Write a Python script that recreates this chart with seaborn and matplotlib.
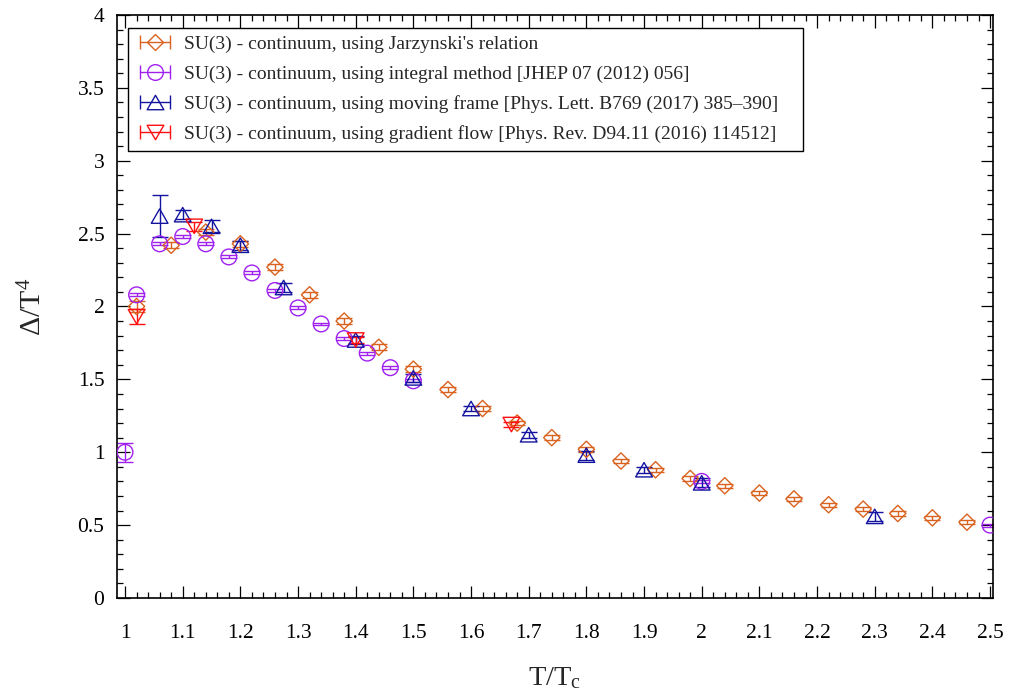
import matplotlib
matplotlib.use("Agg")
import matplotlib.pyplot as plt
from matplotlib.lines import Line2D
from matplotlib.legend_handler import HandlerLine2D
from matplotlib.path import Path
from matplotlib.ticker import MultipleLocator, FuncFormatter
import seaborn as sns

# --- SU(3) continuum data: Delta/T^4 versus T/Tc ---------------------------
# Jarzynski's relation
jar_t = [1.02, 1.08, 1.14, 1.20, 1.26, 1.32, 1.38, 1.44, 1.50, 1.56, 1.62, 1.68,
         1.74, 1.80, 1.86, 1.92, 1.98, 2.04, 2.10, 2.16, 2.22, 2.28, 2.34, 2.40, 2.46]
jar_d = [2.00, 2.42, 2.51, 2.43, 2.27, 2.08, 1.90, 1.72, 1.57, 1.43, 1.30, 1.20,
         1.10, 1.02, 0.94, 0.88, 0.82, 0.77, 0.72, 0.68, 0.64, 0.61, 0.58, 0.55, 0.52]
jar_e = [0.04, 0.02, 0.02, 0.02, 0.02, 0.02, 0.02, 0.02, 0.02, 0.015, 0.015, 0.015,
         0.015, 0.015, 0.015, 0.015, 0.015, 0.015, 0.015, 0.015, 0.015, 0.015, 0.015, 0.015, 0.015]

# integral method [JHEP 07 (2012) 056]
int_t = [1.00, 1.02, 1.06, 1.10, 1.14, 1.18, 1.22, 1.26, 1.30, 1.34, 1.38, 1.42,
         1.46, 1.50, 2.00, 2.50]
int_d = [1.00, 2.08, 2.43, 2.48, 2.43, 2.34, 2.23, 2.11, 1.99, 1.88, 1.78, 1.68,
         1.58, 1.49, 0.80, 0.50]
int_e = [0.065, 0.01, 0.01, 0.01, 0.01, 0.01, 0.01, 0.01, 0.01, 0.01, 0.01, 0.01,
         0.01, 0.01, 0.01, 0.01]

# moving frame [Phys. Lett. B769 (2017) 385-390]
mov_t = [1.06, 1.10, 1.15, 1.20, 1.275, 1.40, 1.50, 1.60, 1.70, 1.80, 1.90, 2.00, 2.30]
mov_d = [2.62, 2.63, 2.55, 2.42, 2.13, 1.77, 1.51, 1.30, 1.12, 0.98, 0.88, 0.79, 0.56]
mov_e = [0.145, 0.03, 0.04, 0.03, 0.03, 0.03, 0.03, 0.02, 0.02, 0.03, 0.02, 0.03, 0.03]

# gradient flow [Phys. Rev. D94.11 (2016) 114512]
grf_t = [1.02, 1.12, 1.40, 1.67]
grf_d = [1.93, 2.55, 1.77, 1.19]
grf_e = [0.05, 0.03, 0.02, 0.02]

labels = [
    "SU(3) - continuum, using Jarzynski's relation",
    "SU(3) - continuum, using integral method [JHEP 07 (2012) 056]",
    "SU(3) - continuum, using moving frame [Phys. Lett. B769 (2017) 385\u2013390]",
    "SU(3) - continuum, using gradient flow [Phys. Rev. D94.11 (2016) 114512]",
]
colors = ["#d9621f", "#a020f0", "#1414a0", "#ff1010"]

# equilateral open triangles (gnuplot style)
tri_up = Path([(-1, -0.866), (1, -0.866), (0, 0.866), (-1, -0.866)], closed=True)
tri_dn = Path([(-1, 0.866), (1, 0.866), (0, -0.866), (-1, 0.866)], closed=True)
markers = ["D", "o", tri_up, tri_dn]
msizes = [8.3, 11.3, 12.0, 12.0]

series = [(jar_t, jar_d, jar_e), (int_t, int_d, int_e),
          (mov_t, mov_d, mov_e), (grf_t, grf_d, grf_e)]

sns.set_theme(style="ticks")
plt.rcParams["font.family"] = ["Liberation Serif", "DejaVu Serif"]
plt.rcParams["mathtext.fontset"] = "custom"
plt.rcParams["mathtext.rm"] = "Liberation Serif"
plt.rcParams["mathtext.it"] = "Liberation Serif:italic"

fig = plt.figure(figsize=(10.1, 6.93), dpi=100)
ax = fig.add_axes([0.1158, 0.1371, 0.8673, 0.8413])

for (t, d, e), c, m, ms in zip(series, colors, markers, msizes):
    ax.errorbar(t, d, yerr=e, fmt="none", ecolor=c, elinewidth=1.0,
                capsize=5.5, capthick=1.0, zorder=2)
    sns.scatterplot(x=t, y=d, ax=ax, marker=m, s=ms ** 2, facecolors="none",
                    edgecolor=c, linewidth=1.0, legend=False, zorder=3)

ax.set_xlim(0.986, 2.505)
ax.set_ylim(0, 4)
ax.xaxis.set_major_locator(MultipleLocator(0.1))
ax.xaxis.set_minor_locator(MultipleLocator(0.02))
ax.yaxis.set_major_locator(MultipleLocator(0.5))
ax.yaxis.set_minor_locator(MultipleLocator(0.1))
fmt = FuncFormatter(lambda v, p: f"{round(v, 3):g}")
ax.xaxis.set_major_formatter(fmt)
ax.yaxis.set_major_formatter(fmt)

ax.tick_params(which="both", direction="in", top=True, right=True,
               color="black", labelcolor="black", labelsize=15.5)
ax.tick_params(which="major", length=9, width=0.9)
ax.tick_params(which="minor", length=4.5, width=0.9)
ax.tick_params(axis="x", which="major", pad=19)
ax.tick_params(axis="y", which="major", pad=9)
for sp in ax.spines.values():
    sp.set_linewidth(1.2)
    sp.set_color("black")

ax.set_xlabel(r"T/T$_{\mathrm{c}}$", fontsize=20.5, labelpad=16)
ax.set_ylabel(r"$\Delta$/T$^{\mathrm{4}}$", fontsize=21.5, labelpad=22)

# legend entries drawn as |--marker--| error-bar symbols
handles = []
hmap = {}
for c, m, ms in zip(colors, markers, msizes):
    bar = Line2D([], [], color=c, lw=1.0, marker="|", ms=10, mew=1.0)
    mk = Line2D([], [], ls="none", marker=m, ms=ms, mfc="none", mec=c, mew=1.0)
    hmap[bar] = HandlerLine2D(numpoints=2, marker_pad=0.23)
    handles.append((bar, mk))

leg = ax.legend(handles, labels, handler_map=hmap, loc="upper left",
                bbox_to_anchor=(0.0126, 0.5, 0.7705, 0.478), mode="expand",
                borderaxespad=0, fontsize=14,
                frameon=True, fancybox=False, framealpha=1, edgecolor="black",
                handlelength=2.0, handletextpad=0.46, labelspacing=0.62,
                borderpad=0.4)
leg.get_frame().set_linewidth(1.0)

fig.savefig("out.png", dpi=100)
